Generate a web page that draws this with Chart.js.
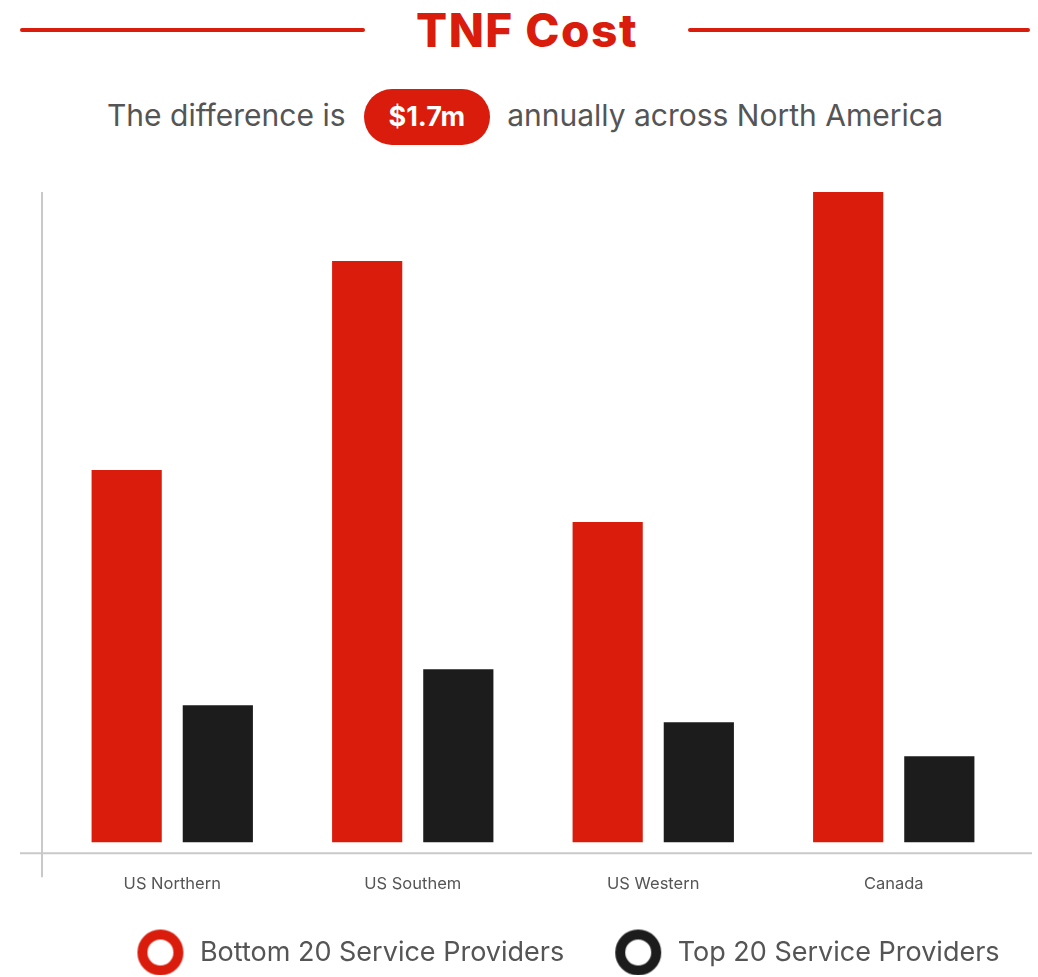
<!DOCTYPE html>
<html>
<head>
<meta charset="utf-8">
<script src="https://cdn.jsdelivr.net/npm/chart.js@4"></script>
<style>
  html, body { margin: 0; padding: 0; background: #fff; }
  body { width: 1038px; height: 977px; position: relative; overflow: hidden; font-family: Inter, "Noto Sans", sans-serif; }
  .rule { position: absolute; top: 28px; height: 4px; background: #d91c0b; border-radius: 2px; }
  #title { position: absolute; left: 8px; width: 1038px; text-align: center; top: 2px;
           font-size: 46px; font-weight: 800; color: #d91c0b; letter-spacing: 1.5px; }
  #sub { position: absolute; top: 87px; left: 6px; width: 1038px; text-align: center;
         font-size: 30px; color: #555; line-height: 56px; }
  .pill { display: inline-block; background: #d91c0b; color: #fff; font-weight: 700; font-size: 27px;
          border-radius: 28px; padding: 0 25px; margin: 0 17px 0 18px; line-height: 56px; height: 56px; }
  #wrap { position: absolute; left: 0; top: 165px; width: 1038px; height: 812px; }
</style>
</head>
<body>
<div class="rule" style="left:20px;width:345px"></div>
<div class="rule" style="left:688px;width:342px"></div>
<div id="title">TNF Cost</div>
<div id="sub">The difference is<span class="pill">$1.7m</span>annually across North America</div>
<div id="wrap"><canvas id="tnfChart"></canvas></div>

<script>
// DATA
const regions = ["US Northern", "US Southem", "US Western", "Canada"];
const bottom20 = [3.72, 5.81, 3.20, 6.50];
const top20 = [1.37, 1.73, 1.20, 0.86];
const seriesNames = ["Bottom 20 Service Providers", "Top 20 Service Providers"];
const RED = "#d91c0b";
const DARK = "#1c1c1c";

// ring icons for legend
function ring(color) {
    const c = document.createElement("canvas");
    c.width = 48; c.height = 48;
    const g = c.getContext("2d");
    g.beginPath();
    g.arc(24, 24, 18, 0, Math.PI * 2);
    g.lineWidth = 10;
    g.strokeStyle = color;
    g.stroke();
    return c;
}
const rings = [ring(RED), ring(DARK)];

// axis lines (y line starts left of the first bar, x line runs edge to edge)
const axisLines = {
    id: "axisLines",
    afterDraw(chart) {
        const { ctx, chartArea, scales } = chart;
        ctx.save();
        ctx.strokeStyle = "#c9c9c9";
        ctx.lineWidth = 2;
        ctx.beginPath();
        ctx.moveTo(chartArea.left - 10, scales.y.getPixelForValue(6.5));
        ctx.lineTo(chartArea.left - 10, chartArea.bottom + 24);
        ctx.moveTo(20, chartArea.bottom);
        ctx.lineTo(1032, chartArea.bottom);
        ctx.stroke();
        ctx.restore();
    }
};

// legend: keep its box short so the plot gets the room, then place it
const legendPlace = {
    id: "legendPlace",
    beforeInit(chart) {
        const legend = chart.legend;
        if (!legend) return;
        const fit = legend.fit;
        legend.fit = function () {
            fit.call(this);
            this.height = 62;
        };
    },
    afterLayout(chart) {
        const L = chart.legend;
        L.top = 726;
        L.height = 84;
        L.bottom = L.top + L.height;
        L.left += 34;
        L.right += 34;
    }
};

new Chart(document.getElementById("tnfChart"), {
    type: "bar",
    data: {
        labels: regions,
        datasets: [
            { label: seriesNames[0], data: bottom20, backgroundColor: RED },
            { label: seriesNames[1], data: top20, backgroundColor: DARK }
        ]
    },
    options: {
        responsive: true,
        maintainAspectRatio: false,
        animation: false,
        categoryPercentage: 0.758,
        barPercentage: 0.77,
        layout: { padding: { left: 52, right: 24, top: 27, bottom: 0 } },
        scales: {
            x: {
                grid: { display: false, drawTicks: false },
                border: { display: false },
                ticks: { color: "#555", font: { family: "Inter", size: 16.5 }, padding: 21 }
            },
            y: { display: false, min: -0.11, max: 6.5 }
        },
        plugins: {
            tooltip: { enabled: false },
            legend: {
                position: "bottom",
                labels: {
                    usePointStyle: true,
                    pointStyleWidth: 52,
                    padding: 48,
                    color: "#555",
                    font: { family: "Inter", size: 27 },
                    generateLabels: chart => chart.data.datasets.map((ds, i) => ({
                        text: ds.label,
                        pointStyle: rings[i],
                        fillStyle: ds.backgroundColor,
                        strokeStyle: ds.backgroundColor,
                        lineWidth: 0,
                        hidden: false,
                        datasetIndex: i,
                        fontColor: "#555"
                    }))
                }
            }
        }
    },
    plugins: [axisLines, legendPlace]
});
</script>
</body>
</html>
